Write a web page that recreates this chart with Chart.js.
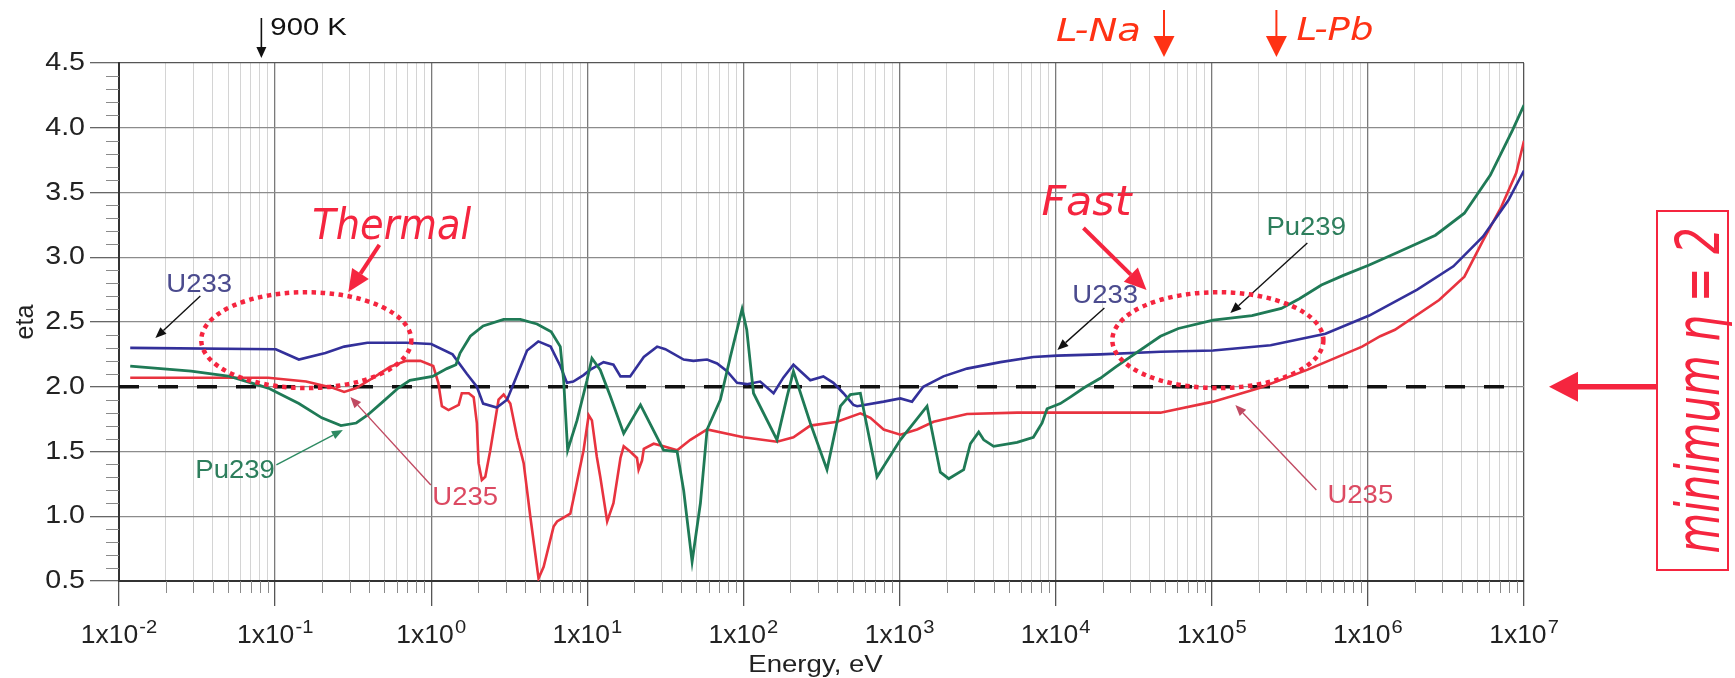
<!DOCTYPE html>
<html>
<head>
<meta charset="utf-8">
<script src="https://cdn.jsdelivr.net/npm/chart.js@4.4.1/dist/chart.umd.min.js"></script>
<style>
  html, body { margin: 0; padding: 0; background: #ffffff; }
</style>
</head>
<body>
<canvas id="etaChart" width="1735" height="678"></canvas>
<script>
// eta vs neutron energy (energy in eV)
const decades = [-2, -1, 0, 1, 2, 3, 4, 5, 6, 7];
const etaTicks = [0.5, 1.0, 1.5, 2.0, 2.5, 3.0, 3.5, 4.0, 4.5];

const u233Energy = [0.0118, 0.101, 0.142, 0.21, 0.277, 0.39, 0.69, 1.0, 1.37, 1.69, 1.96, 2.15, 2.63, 3.06, 3.36, 4.11, 4.85, 5.82, 6.71, 7.41, 8.13, 9.46, 10.4, 12.7, 14.7, 16.3, 18.8, 23.0, 28.0, 31.6, 41.4, 47.8, 58.5, 67.8, 78.5, 91.0, 105, 128, 156, 180, 209, 268, 325, 377, 437, 506, 535, 791, 1012, 1202, 1419, 1910, 2704, 4426, 7197, 10200, 19300, 46900, 102000, 238000, 535000, 1.02e6, 2.07e6, 3.53e6, 5.47e6, 7.94e6, 1e7];
const u233Eta = [2.30, 2.29, 2.21, 2.26, 2.31, 2.34, 2.34, 2.33, 2.25, 2.10, 2.00, 1.87, 1.84, 1.90, 2.02, 2.28, 2.35, 2.31, 2.16, 2.03, 2.04, 2.09, 2.13, 2.19, 2.17, 2.08, 2.08, 2.23, 2.31, 2.29, 2.21, 2.20, 2.21, 2.18, 2.12, 2.03, 2.02, 2.04, 1.95, 2.07, 2.17, 2.05, 2.08, 2.03, 1.95, 1.86, 1.85, 1.885, 1.91, 1.885, 2.0, 2.08, 2.14, 2.19, 2.23, 2.24, 2.25, 2.27, 2.28, 2.32, 2.41, 2.55, 2.75, 2.93, 3.16, 3.44, 3.67];

const u235Energy = [0.0118, 0.0903, 0.158, 0.236, 0.277, 0.331, 0.439, 0.547, 0.69, 0.853, 1.03, 1.11, 1.17, 1.29, 1.50, 1.57, 1.74, 1.87, 1.96, 2.01, 2.11, 2.22, 2.39, 2.70, 2.91, 3.21, 3.55, 3.91, 4.31, 4.87, 5.25, 6.08, 6.40, 7.78, 8.37, 9.46, 10.2, 10.7, 11.5, 12.1, 13.4, 14.7, 16.3, 17.1, 18.8, 20.8, 21.3, 22.4, 23.0, 26.6, 30.8, 37.6, 45.7, 58.5, 100, 164, 209, 268, 398, 561, 650, 791, 1012, 1294, 1652, 2704, 5662, 19300, 46900, 102000, 202000, 408000, 918000, 1.2e6, 1.49e6, 2.86e6, 4.15e6, 5.47e6, 7.16e6, 8.91e6, 1e7];
const u235Eta = [2.07, 2.07, 2.04, 1.99, 1.96, 1.99, 2.08, 2.155, 2.20, 2.20, 2.16, 2.03, 1.85, 1.82, 1.86, 1.95, 1.95, 1.92, 1.72, 1.41, 1.28, 1.305, 1.51, 1.90, 1.94, 1.87, 1.61, 1.41, 1.0, 0.52, 0.61, 0.92, 0.96, 1.02, 1.20, 1.51, 1.78, 1.74, 1.46, 1.305, 0.96, 1.10, 1.45, 1.54, 1.50, 1.45, 1.36, 1.43, 1.52, 1.56, 1.54, 1.51, 1.59, 1.67, 1.61, 1.575, 1.61, 1.70, 1.73, 1.795, 1.76, 1.67, 1.63, 1.67, 1.73, 1.79, 1.80, 1.80, 1.80, 1.885, 1.99, 2.13, 2.31, 2.39, 2.44, 2.67, 2.85, 3.13, 3.39, 3.65, 3.9];

const pu239Energy = [0.0118, 0.029, 0.0513, 0.0903, 0.142, 0.199, 0.264, 0.331, 0.39, 0.491, 0.615, 0.73, 1.02, 1.26, 1.44, 1.53, 1.78, 2.15, 2.91, 3.72, 4.76, 5.87, 6.71, 7.05, 7.48, 8.59, 9.95, 10.7, 12.1, 14.0, 17.1, 21.9, 30.8, 37.6, 41.4, 46.9, 53.0, 58.5, 71.1, 82.4, 98.0, 105, 116, 164, 190, 209, 268, 343, 418, 484, 561, 718, 1012, 1500, 1824, 2065, 2576, 2842, 3213, 3459, 4008, 5662, 7197, 8185, 8810, 10700, 12400, 15100, 19300, 24400, 46900, 61100, 102000, 181000, 279000, 364000, 504000, 697000, 1.02e6, 1.57e6, 2.71e6, 4.15e6, 6.09e6, 8.43e6, 1e7];
const pu239Eta = [2.16, 2.12, 2.08, 1.99, 1.87, 1.76, 1.70, 1.72, 1.78, 1.885, 1.99, 2.05, 2.08, 2.14, 2.17, 2.26, 2.39, 2.47, 2.52, 2.52, 2.485, 2.425, 2.31, 2.05, 1.51, 1.74, 2.05, 2.22, 2.13, 1.93, 1.64, 1.86, 1.51, 1.50, 1.20, 0.65, 1.10, 1.67, 1.90, 2.23, 2.60, 2.44, 1.95, 1.59, 1.92, 2.12, 1.72, 1.36, 1.85, 1.94, 1.95, 1.305, 1.59, 1.85, 1.34, 1.29, 1.36, 1.56, 1.65, 1.59, 1.54, 1.57, 1.61, 1.72, 1.83, 1.87, 1.92, 1.99, 2.065, 2.155, 2.39, 2.45, 2.515, 2.55, 2.605, 2.68, 2.785, 2.86, 2.94, 3.04, 3.17, 3.34, 3.635, 3.98, 4.175];

const minEtaEnergy = [0.01, 7.7e6];
const minEta = [2.0, 2.0];

const FONT = '"Liberation Sans", Arial, sans-serif';
const HAND = '"DejaVu Sans", sans-serif';
Chart.defaults.font.family = FONT;

function pairs(xs, ys) {
    return xs.map((x, i) => ({ x: x, y: ys[i] }));
}

function isDecade(v) {
    const l = Math.log10(v);
    return Math.abs(l - Math.round(l)) < 1e-6;
}

function arrow(ctx, x1, y1, x2, y2, color, width, headLen, headW) {
    const ang = Math.atan2(y2 - y1, x2 - x1);
    const bx = x2 - headLen * Math.cos(ang);
    const by = y2 - headLen * Math.sin(ang);
    ctx.strokeStyle = color;
    ctx.lineWidth = width;
    ctx.beginPath();
    ctx.moveTo(x1, y1);
    ctx.lineTo(bx, by);
    ctx.stroke();
    ctx.fillStyle = color;
    ctx.beginPath();
    ctx.moveTo(x2, y2);
    ctx.lineTo(bx + headW * Math.sin(ang), by - headW * Math.cos(ang));
    ctx.lineTo(bx - headW * Math.sin(ang), by + headW * Math.cos(ang));
    ctx.closePath();
    ctx.fill();
}

// text squeezed / stretched to a given width
function fitText(ctx, txt, x, y, font, width, color) {
    ctx.font = font;
    const w = ctx.measureText(txt).width;
    ctx.save();
    ctx.translate(x, y);
    ctx.scale(width / w, 1);
    ctx.fillStyle = color;
    ctx.textAlign = 'left';
    ctx.textBaseline = 'alphabetic';
    ctx.fillText(txt, 0, 0);
    ctx.restore();
}

// text widened by a factor, the picture's lettering is a bit wide
function wideText(ctx, txt, x, y, font, sx, align, base, color) {
    ctx.save();
    ctx.translate(x, y);
    ctx.scale(sx, 1);
    ctx.font = font;
    ctx.fillStyle = color;
    ctx.textAlign = align;
    ctx.textBaseline = base;
    ctx.fillText(txt, 0, 0);
    ctx.restore();
}

const decor = {
    id: 'decor',
    beforeDatasetsDraw(chart) {
        const ctx = chart.ctx, xs = chart.scales.x, ys = chart.scales.y, a = chart.chartArea;
        ctx.save();
        ctx.strokeStyle = '#8a8a8a';
        ctx.lineWidth = 1;
        xs.ticks.forEach(t => {
            if (isDecade(t.value)) return;
            const px = Math.round(xs.getPixelForValue(t.value)) + 0.5;
            ctx.beginPath();
            ctx.moveTo(px, a.bottom);
            ctx.lineTo(px, a.bottom + 12);
            ctx.stroke();
        });
        for (let i = 6; i < 45; i++) {
            if (i % 5 === 0) continue;
            const py = Math.round(ys.getPixelForValue(i / 10)) + 0.5;
            ctx.beginPath();
            ctx.moveTo(a.left - 13, py);
            ctx.lineTo(a.left, py);
            ctx.stroke();
        }
        ctx.restore();
    },
    afterDraw(chart) {
        const ctx = chart.ctx, xs = chart.scales.x, ys = chart.scales.y, a = chart.chartArea;
        const X = lg => xs.getPixelForValue(Math.pow(10, lg));
        const Y = v => ys.getPixelForValue(v);
        ctx.save();

        // y tick labels
        etaTicks.forEach(v => {
            wideText(ctx, v.toFixed(1), a.left - 34, Y(v), '26px ' + FONT, 1.1, 'right', 'middle', '#222');
        });

        // x tick labels 1x10^n
        decades.forEach(d => {
            const cx = xs.getPixelForValue(Math.pow(10, d));
            const sx = 1.06;
            ctx.font = '25px ' + FONT;
            const wb = ctx.measureText('1x10').width;
            ctx.font = '19px ' + FONT;
            const ws = ctx.measureText(String(d)).width;
            const x0 = cx - sx * (wb + ws + 1) / 2;
            wideText(ctx, '1x10', x0, a.bottom + 62, '25px ' + FONT, sx, 'left', 'alphabetic', '#222');
            wideText(ctx, String(d), x0 + sx * (wb + 1), a.bottom + 52, '19px ' + FONT, sx, 'left', 'alphabetic', '#222');
        });

        // axis titles
        wideText(ctx, 'Energy, eV', (a.left + a.right) / 2 - 6, a.bottom + 91, '23px ' + FONT, 1.2, 'center', 'alphabetic', '#222');
        ctx.save();
        ctx.translate(26, Y(2.5));
        ctx.rotate(-Math.PI / 2);
        ctx.font = '25px ' + FONT;
        ctx.fillStyle = '#222';
        ctx.textAlign = 'center';
        ctx.textBaseline = 'middle';
        ctx.fillText('eta', 0, 0);
        ctx.restore();

        // series labels with pointers
        const labels = [
            { t: 'U233', c: '#4b4b8e', at: [-1.697, 2.732], from: [-1.479, 2.70], to: [-1.767, 2.376], ac: '#111' },
            { t: 'Pu239', c: '#2d7e5c', at: [-1.511, 1.295], from: [-0.992, 1.396], to: [-0.566, 1.666], ac: '#2d8a62' },
            { t: 'U235', c: '#dc4a62', at: [0.007, 1.087], from: [-0.0025, 1.241], to: [-0.518, 1.921], ac: '#c04a62' },
            { t: 'U233', c: '#4b4b8e', at: [4.107, 2.647], from: [4.312, 2.608], to: [4.011, 2.284], ac: '#111' },
            { t: 'Pu239', c: '#2d7e5c', at: [5.35, 3.172], from: [5.612, 3.110], to: [5.119, 2.569], ac: '#111' },
            { t: 'U235', c: '#dc4a62', at: [5.741, 1.102], from: [5.670, 1.203], to: [5.151, 1.859], ac: '#c04a62' }
        ];
        labels.forEach(l => {
            wideText(ctx, l.t, X(l.at[0]), Y(l.at[1]), '25px ' + FONT, 1.1, 'left', 'alphabetic', l.c);
            arrow(ctx, X(l.from[0]), Y(l.from[1]), X(l.to[0]), Y(l.to[1]), l.ac, 1.4, 11, 4.5);
        });

        // Thermal / Fast call-outs
        const red = '#f5253f';
        ctx.setLineDash([4.5, 4.5]);
        ctx.strokeStyle = red;
        ctx.lineWidth = 4.5;
        [[-1.473, -0.1275], [4.363, 5.715]].forEach(r => {
            const x1 = X(r[0]), x2 = X(r[1]), y1 = Y(2.73), y2 = Y(1.99);
            ctx.beginPath();
            ctx.ellipse((x1 + x2) / 2, (y1 + y2) / 2, (x2 - x1) / 2, (y2 - y1) / 2, 0, 0, Math.PI * 2);
            ctx.stroke();
        });
        ctx.setLineDash([]);
        fitText(ctx, 'Thermal', X(-0.762), Y(3.141), 'italic 42px ' + HAND, 159, red);
        arrow(ctx, X(-0.332), Y(3.095), X(-0.531), Y(2.732), red, 4, 22, 10);
        fitText(ctx, 'Fast', X(3.909), Y(3.326), 'italic 41px ' + HAND, 90, red);
        arrow(ctx, X(4.178), Y(3.226), X(4.582), Y(2.747), red, 4, 22, 10);

        // markers above the plot
        const xk = X(-1.088);
        arrow(ctx, xk, a.top - 45, xk, a.top - 5, '#111', 1.6, 11, 5);
        wideText(ctx, '900 K', xk + 9, a.top - 28, '24px ' + FONT, 1.22, 'left', 'alphabetic', '#111');

        const orange = '#ff3214';
        const xna = X(4.694), xpb = X(5.414);
        arrow(ctx, xna, a.top - 53, xna, a.top - 6, orange, 2, 21, 10.5);
        arrow(ctx, xpb, a.top - 53, xpb, a.top - 6, orange, 2, 21, 10.5);
        fitText(ctx, 'L-Na', xna - 108, a.top - 22, 'italic 32px ' + HAND, 85, orange);
        fitText(ctx, 'L-Pb', xpb + 20, a.top - 23, 'italic 32px ' + HAND, 77, orange);

        // minimum eta box
        const bx = a.right + 133, bw = 71, by = 211, bh = 359;
        ctx.strokeStyle = red;
        ctx.lineWidth = 2;
        ctx.strokeRect(bx, by, bw, bh);
        arrow(ctx, bx, Y(2), a.right + 25, Y(2), red, 5.5, 29, 15);
        ctx.save();
        ctx.translate(bx + 62, by + bh / 2);
        ctx.rotate(-Math.PI / 2);
        ctx.font = 'italic 60px ' + HAND;
        const w = ctx.measureText('minimum η = 2').width;
        ctx.scale(326 / w, 1);
        ctx.fillStyle = red;
        ctx.textAlign = 'center';
        ctx.fillText('minimum η = 2', 0, 0);
        ctx.restore();

        ctx.restore();
    }
};

const data_eta = {
    datasets: [{
        label: 'Pu239',
        data: pairs(pu239Energy, pu239Eta),
        borderColor: '#1f7a56',
        borderWidth: 2.8
    }, {
        label: 'U233',
        data: pairs(u233Energy, u233Eta),
        borderColor: '#33309a',
        borderWidth: 2.6
    }, {
        label: 'U235',
        data: pairs(u235Energy, u235Eta),
        borderColor: '#e8333f',
        borderWidth: 2.6
    }, {
        label: 'minimum eta',
        data: pairs(minEtaEnergy, minEta),
        borderColor: '#111',
        borderWidth: 3.5,
        borderDash: [20, 19]
    }]
};

const config_eta = {
    type: 'line',
    data: data_eta,
    plugins: [decor],
    options: {
        responsive: false,
        animation: false,
        layout: { padding: { left: 0, top: 63, right: 211, bottom: 0 } },
        elements: {
            point: { radius: 0 },
            line: { tension: 0, borderCapStyle: 'butt', fill: false }
        },
        plugins: {
            legend: { display: false },
            tooltip: { enabled: false }
        },
        scales: {
            x: {
                type: 'logarithmic',
                min: 0.01,
                max: 1e7,
                afterBuildTicks: function (scale) {
                    const t = [];
                    decades.forEach(d => {
                        if (d === 7) { t.push({ value: 1e7 }); return; }
                        for (let k = 1; k < 10; k++) t.push({ value: k * Math.pow(10, d) });
                    });
                    scale.ticks = t;
                },
                afterFit: function (scale) { scale.height = 97; },
                ticks: { display: false, autoSkip: false },
                grid: {
                    color: c => {
                        const v = c.tick ? c.tick.value : 1;
                        if (v >= 9.99e6) return '#555';
                        return isDecade(v) ? '#7a7a7a' : '#d4d4d4';
                    },
                    lineWidth: c => (c.tick && isDecade(c.tick.value) ? 1.3 : 1),
                    tickLength: 25,
                    tickColor: c => (c.tick && isDecade(c.tick.value) ? '#555' : 'rgba(0,0,0,0)'),
                    tickWidth: 1.3
                },
                border: { color: '#333', width: 2 }
            },
            y: {
                type: 'linear',
                min: 0.5,
                max: 4.5,
                afterBuildTicks: function (scale) {
                    scale.ticks = etaTicks.map(v => ({ value: v }));
                },
                afterFit: function (scale) { scale.width = 119; },
                ticks: { display: false, autoSkip: false },
                grid: {
                    color: c => (c.tick && c.tick.value === 4.5 ? '#555' : '#8c8c8c'),
                    lineWidth: 1.3,
                    tickLength: 29,
                    tickColor: '#666'
                },
                border: { color: '#333', width: 2 }
            }
        }
    }
};

const EtaChart = new Chart(document.getElementById('etaChart'), config_eta);
</script>
</body>
</html>
